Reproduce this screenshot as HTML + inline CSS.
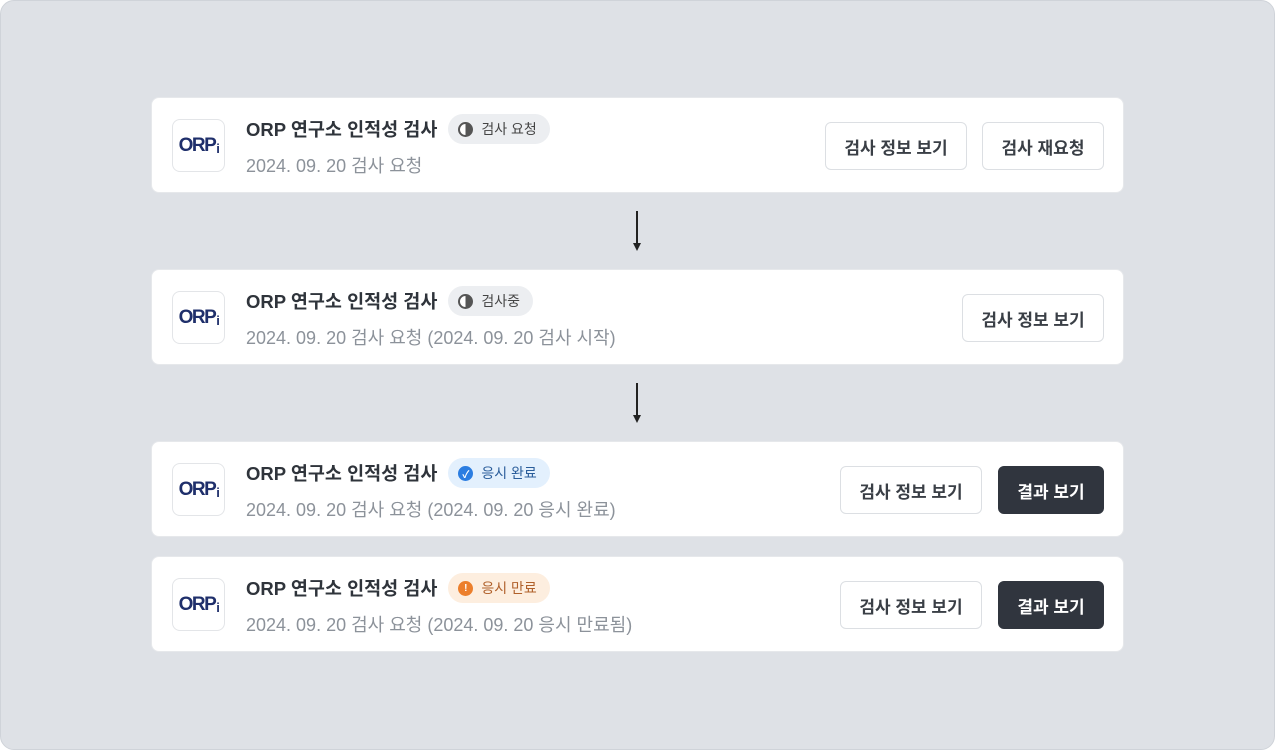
<!DOCTYPE html>
<html><head><meta charset="utf-8"><style>
*{box-sizing:border-box;margin:0;padding:0}
body{width:1275px;height:750px;background:#fff;font-family:"Liberation Sans","Noto Sans CJK KR",sans-serif;position:relative;overflow:hidden}
.bg{position:absolute;left:0;top:0;width:1275px;height:750px;background:#dee1e6;border-radius:14px;border:1px solid #cfd3d9}
.card{position:absolute;left:151px;width:973px;height:96px;background:#fff;border-radius:8px;border:1px solid #e6e8eb}
.logo{position:absolute;left:20px;top:21px;width:53px;height:53px;border:1px solid #e3e5e8;border-radius:8px;display:flex;align-items:center;justify-content:center;font-weight:bold;font-size:19px;color:#1f2f6b;letter-spacing:-1.5px}
.logo i{font-style:normal;font-size:13px;margin-left:1px;margin-top:5px}
.row{position:absolute;left:94px;top:16px;height:30px;display:flex;align-items:center;white-space:nowrap}
.title{font-size:18.5px;font-weight:bold;color:#2f343b;margin-right:11px}
.sub{position:absolute;left:94px;top:54px;font-size:18px;color:#8c929a;white-space:nowrap}
.badge{height:30px;border-radius:15px;padding:0 13px 0 10px;display:flex;align-items:center;font-size:14px;white-space:nowrap}
.badge .ic{width:15px;height:15px;border-radius:50%;margin-right:8px;display:inline-flex;align-items:center;justify-content:center;color:#fff;font-size:10px;font-weight:bold}
.btn{position:absolute;top:24px;height:48px;border:1px solid #dcdfe3;border-radius:6px;display:flex;align-items:center;justify-content:center;font-size:17px;font-weight:bold;color:#3a3f46;background:#fff}
.dark{background:#30353e;color:#fff;border-color:#30353e}
.arrow{position:absolute;left:636px;width:1.5px;background:#222}
.head{position:absolute;left:633px;width:0;height:0;border-left:4px solid transparent;border-right:4px solid transparent;border-top:8px solid #222}
</style></head><body>
<div class="bg"></div>

<div class="card" style="top:97px">
<div class="logo">ORP<i>i</i></div>
<div class="row"><span class="title">ORP 연구소 인적성 검사</span>
<div class="badge" style="background:#eceef1;color:#444"><span class="ic" style="border:2px solid #555;background:linear-gradient(90deg,#fff 50%,#555 50%)"></span>검사 요청</div></div>
<div class="sub">2024. 09. 20 검사 요청</div>
<div class="btn" style="left:673px;width:142px">검사 정보 보기</div>
<div class="btn" style="left:830px;width:122px">검사 재요청</div>
</div>

<div class="arrow" style="top:211px;height:33px"></div><div class="head" style="top:243px"></div>

<div class="card" style="top:269px">
<div class="logo">ORP<i>i</i></div>
<div class="row"><span class="title">ORP 연구소 인적성 검사</span>
<div class="badge" style="background:#eceef1;color:#444"><span class="ic" style="border:2px solid #555;background:linear-gradient(90deg,#fff 50%,#555 50%)"></span>검사중</div></div>
<div class="sub">2024. 09. 20 검사 요청 (2024. 09. 20 검사 시작)</div>
<div class="btn" style="left:810px;width:142px">검사 정보 보기</div>
</div>

<div class="arrow" style="top:383px;height:33px"></div><div class="head" style="top:415px"></div>

<div class="card" style="top:441px">
<div class="logo">ORP<i>i</i></div>
<div class="row"><span class="title">ORP 연구소 인적성 검사</span>
<div class="badge" style="background:#e3f0fd;color:#2a5d9a"><span class="ic" style="background:#2b7de1">✓</span>응시 완료</div></div>
<div class="sub">2024. 09. 20 검사 요청 (2024. 09. 20 응시 완료)</div>
<div class="btn" style="left:688px;width:142px">검사 정보 보기</div>
<div class="btn dark" style="left:846px;width:106px">결과 보기</div>
</div>

<div class="card" style="top:556px">
<div class="logo">ORP<i>i</i></div>
<div class="row"><span class="title">ORP 연구소 인적성 검사</span>
<div class="badge" style="background:#fdeedf;color:#b0602a"><span class="ic" style="background:#ec7f2c">!</span>응시 만료</div></div>
<div class="sub">2024. 09. 20 검사 요청 (2024. 09. 20 응시 만료됨)</div>
<div class="btn" style="left:688px;width:142px">검사 정보 보기</div>
<div class="btn dark" style="left:846px;width:106px">결과 보기</div>
</div>
</body></html>
